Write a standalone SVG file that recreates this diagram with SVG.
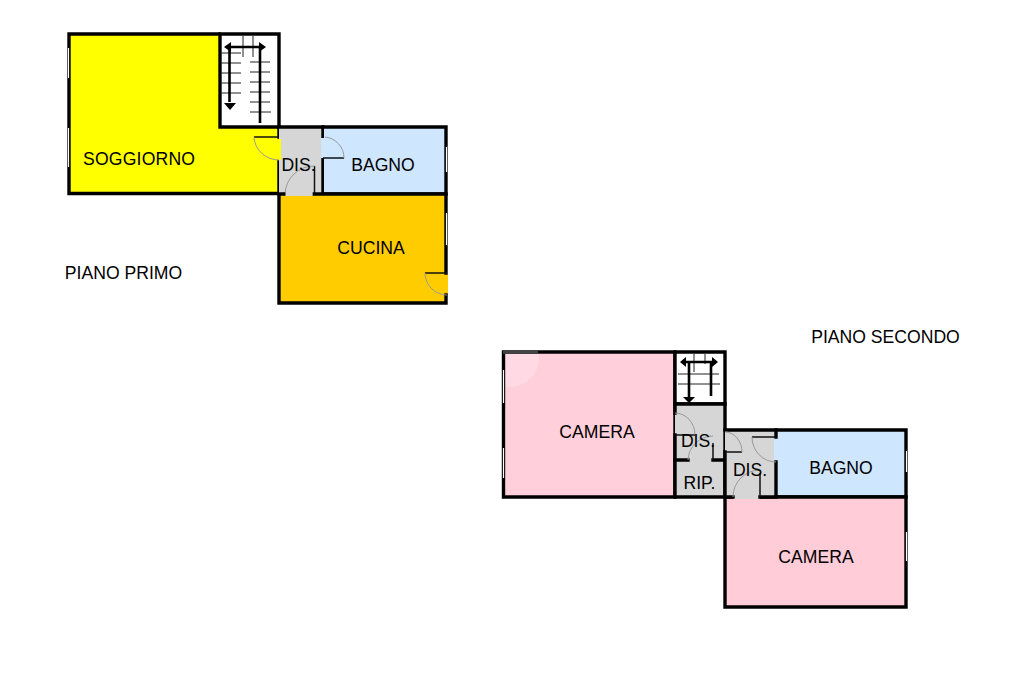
<svg xmlns="http://www.w3.org/2000/svg" width="1024" height="682" viewBox="0 0 1024 682">
<style>
text{font-family:"Liberation Sans",Arial,sans-serif;font-size:17.6px;fill:#000;text-anchor:middle}
.w{fill:none;stroke:#000;stroke-width:3.4;stroke-linecap:square}
.win{stroke:#fff;stroke-width:1.2;fill:none}
.leaf{stroke:#111;stroke-width:1.5;fill:none}
.arc{stroke:#999;stroke-width:1;fill:none}
.s{stroke:#000;stroke-width:2.6;fill:none}
.t{stroke:#222;stroke-width:1;fill:none}
.h{fill:#000}
</style>
<rect width="1024" height="682" fill="#fff"/>
<g id="soggiorno"><path d="M69 34H219V127H279V193H69Z" fill="#ffff00"/><path class="w" d="M219 34H69V193.500H279M279 160V194M279 127V137"/><text x="139" y="165" textLength="112" lengthAdjust="spacing">SOGGIORNO</text></g>
<g id="scala-1"><rect x="220" y="34" width="59" height="93" fill="#fff"/><path class="w" d="M220 34H279V127H220Z"/>
<path class="t" d="M221 53H241M221 63H241M221 73H241M221 83H241M221 93H241M250 62H270M250 72H270M250 82H270M250 92H270M250 102H270M250 112H271M243 36V57M253 36V57"/>
<path class="s" d="M229.500 47V102M260 47V123M229.500 47H260"/><path class="h" d="M224 47L231 42V52ZM266 47L259 42V52ZM224 103H236L230 110Z"/></g>
<g id="dis-1"><rect x="279" y="127" width="44" height="67" fill="#d6d6d6"/><path class="w" d="M279 127H323M323 127V137M323 158V194"/><path class="leaf" d="M314.500 166V194"/><path class="arc" d="M314.500 166A29 29 0 0 0 285 194"/></g>
<g id="bagno-1"><path d="M324 128H446V194H324Z" fill="#cfe6ff"/><rect x="321" y="138" width="4" height="20" fill="#cfe6ff"/><path class="w" d="M323 127H446V194H323"/><path class="win" d="M446.500 147V172"/><path class="leaf" d="M323 158H344"/><path class="arc" d="M325 137A21 21 0 0 1 344 158"/><text x="383" y="171">BAGNO</text></g>
<g id="cucina"><rect x="279" y="194" width="167" height="109" fill="#ffcc00"/><rect x="444" y="274" width="4" height="21" fill="#ffcc00"/><path class="w" d="M279 194V303H446V295M446 273V194M279 194H285M314 194H446"/><rect x="285.500" y="192" width="27" height="4" fill="#d6d6d6"/><path class="win" d="M446.500 213V245"/><path class="leaf" d="M425 273H447"/><path class="arc" d="M425 273A22 22 0 0 0 447 295"/><text x="371" y="254">CUCINA</text></g>
<rect x="277" y="139" width="4" height="21" fill="#ffff00"/><path class="leaf" d="M254 137H279"/><path class="arc" d="M254 137A25 24 0 0 0 279 160"/>
<path class="win" d="M68.500 48V78M68.500 128V167"/>
<text x="298.500" y="171">DIS.</text>
<text x="123.500" y="279">PIANO PRIMO</text>

<g id="camera-1"><rect x="503" y="352" width="172" height="145" fill="#ffd0dc"/><clipPath id="c"><rect x="505" y="354" width="170" height="141"/></clipPath><circle cx="510" cy="358" r="29" fill="#fff" fill-opacity=".2" clip-path="url(#c)"/><path class="w" d="M503.500 352H675V497H503.500Z"/><path d="M503 352H538" stroke="#444" stroke-width="3.400" fill="none"/><path class="win" d="M503.500 370V403M503.500 448V478"/><text x="597" y="438">CAMERA</text></g>
<g id="scala-2"><rect x="675" y="352" width="50" height="52" fill="#fff"/><path class="w" d="M675 352H725V404H675Z"/>
<path class="t" d="M678 374H719M678 384H720M694 354V372M705 354V364"/>
<path class="s" d="M689 362V397M711 362V396M684 362H715"/><path class="h" d="M680 362L686 357V367ZM718 362L712 357V367ZM683 397H695L689 403Z"/></g>
<g id="rip"><rect x="675" y="460" width="50" height="37" fill="#d6d6d6"/><path class="w" d="M675 497H725V460M675 460V497"/><text x="699.500" y="489">RIP.</text></g>
<g id="dis-2"><rect x="675" y="404" width="50" height="56" fill="#d6d6d6"/><path class="w" d="M675 404H725V460M713 460H725M675 460H688M675 404V413M675 435V460"/><path class="leaf" d="M713 443V460M675 435H695"/><path class="arc" d="M675 413A20 22 0 0 1 695 435M713 436A25 25 0 0 0 688 460"/><text x="698" y="447">DIS.</text></g>
<g id="bagno-2"><rect x="776" y="430" width="130" height="67" fill="#cfe6ff"/><path class="w" d="M776 430H906V497H776"/><path class="win" d="M906.500 451V472"/><text x="841" y="474">BAGNO</text></g>
<g id="camera-2"><rect x="725" y="497" width="181" height="110" fill="#ffccd8"/><path class="w" d="M725 497H733M760 497H906V607H725V497"/><path class="win" d="M906.500 532V561"/><text x="816" y="563">CAMERA</text></g>
<g id="dis-3"><rect x="725" y="430" width="51" height="67" fill="#d6d6d6"/><rect x="733" y="495" width="27" height="4" fill="#d6d6d6"/><rect x="774" y="438" width="4" height="24" fill="#cfe6ff"/><path class="w" d="M725 430H776M725 452V497H733M760 497H776M776 462V497M776 430V437"/><path class="leaf" d="M760 473V497M725 452H742M752 437H776"/><path class="arc" d="M725 432A17 20 0 0 1 742 452M760 470A27 27 0 0 0 733 497M752 437A24 25 0 0 0 776 462"/><text x="750" y="476">DIS.</text></g>
<text x="885.500" y="343">PIANO SECONDO</text>
<g id="connectors"/>
</svg>
